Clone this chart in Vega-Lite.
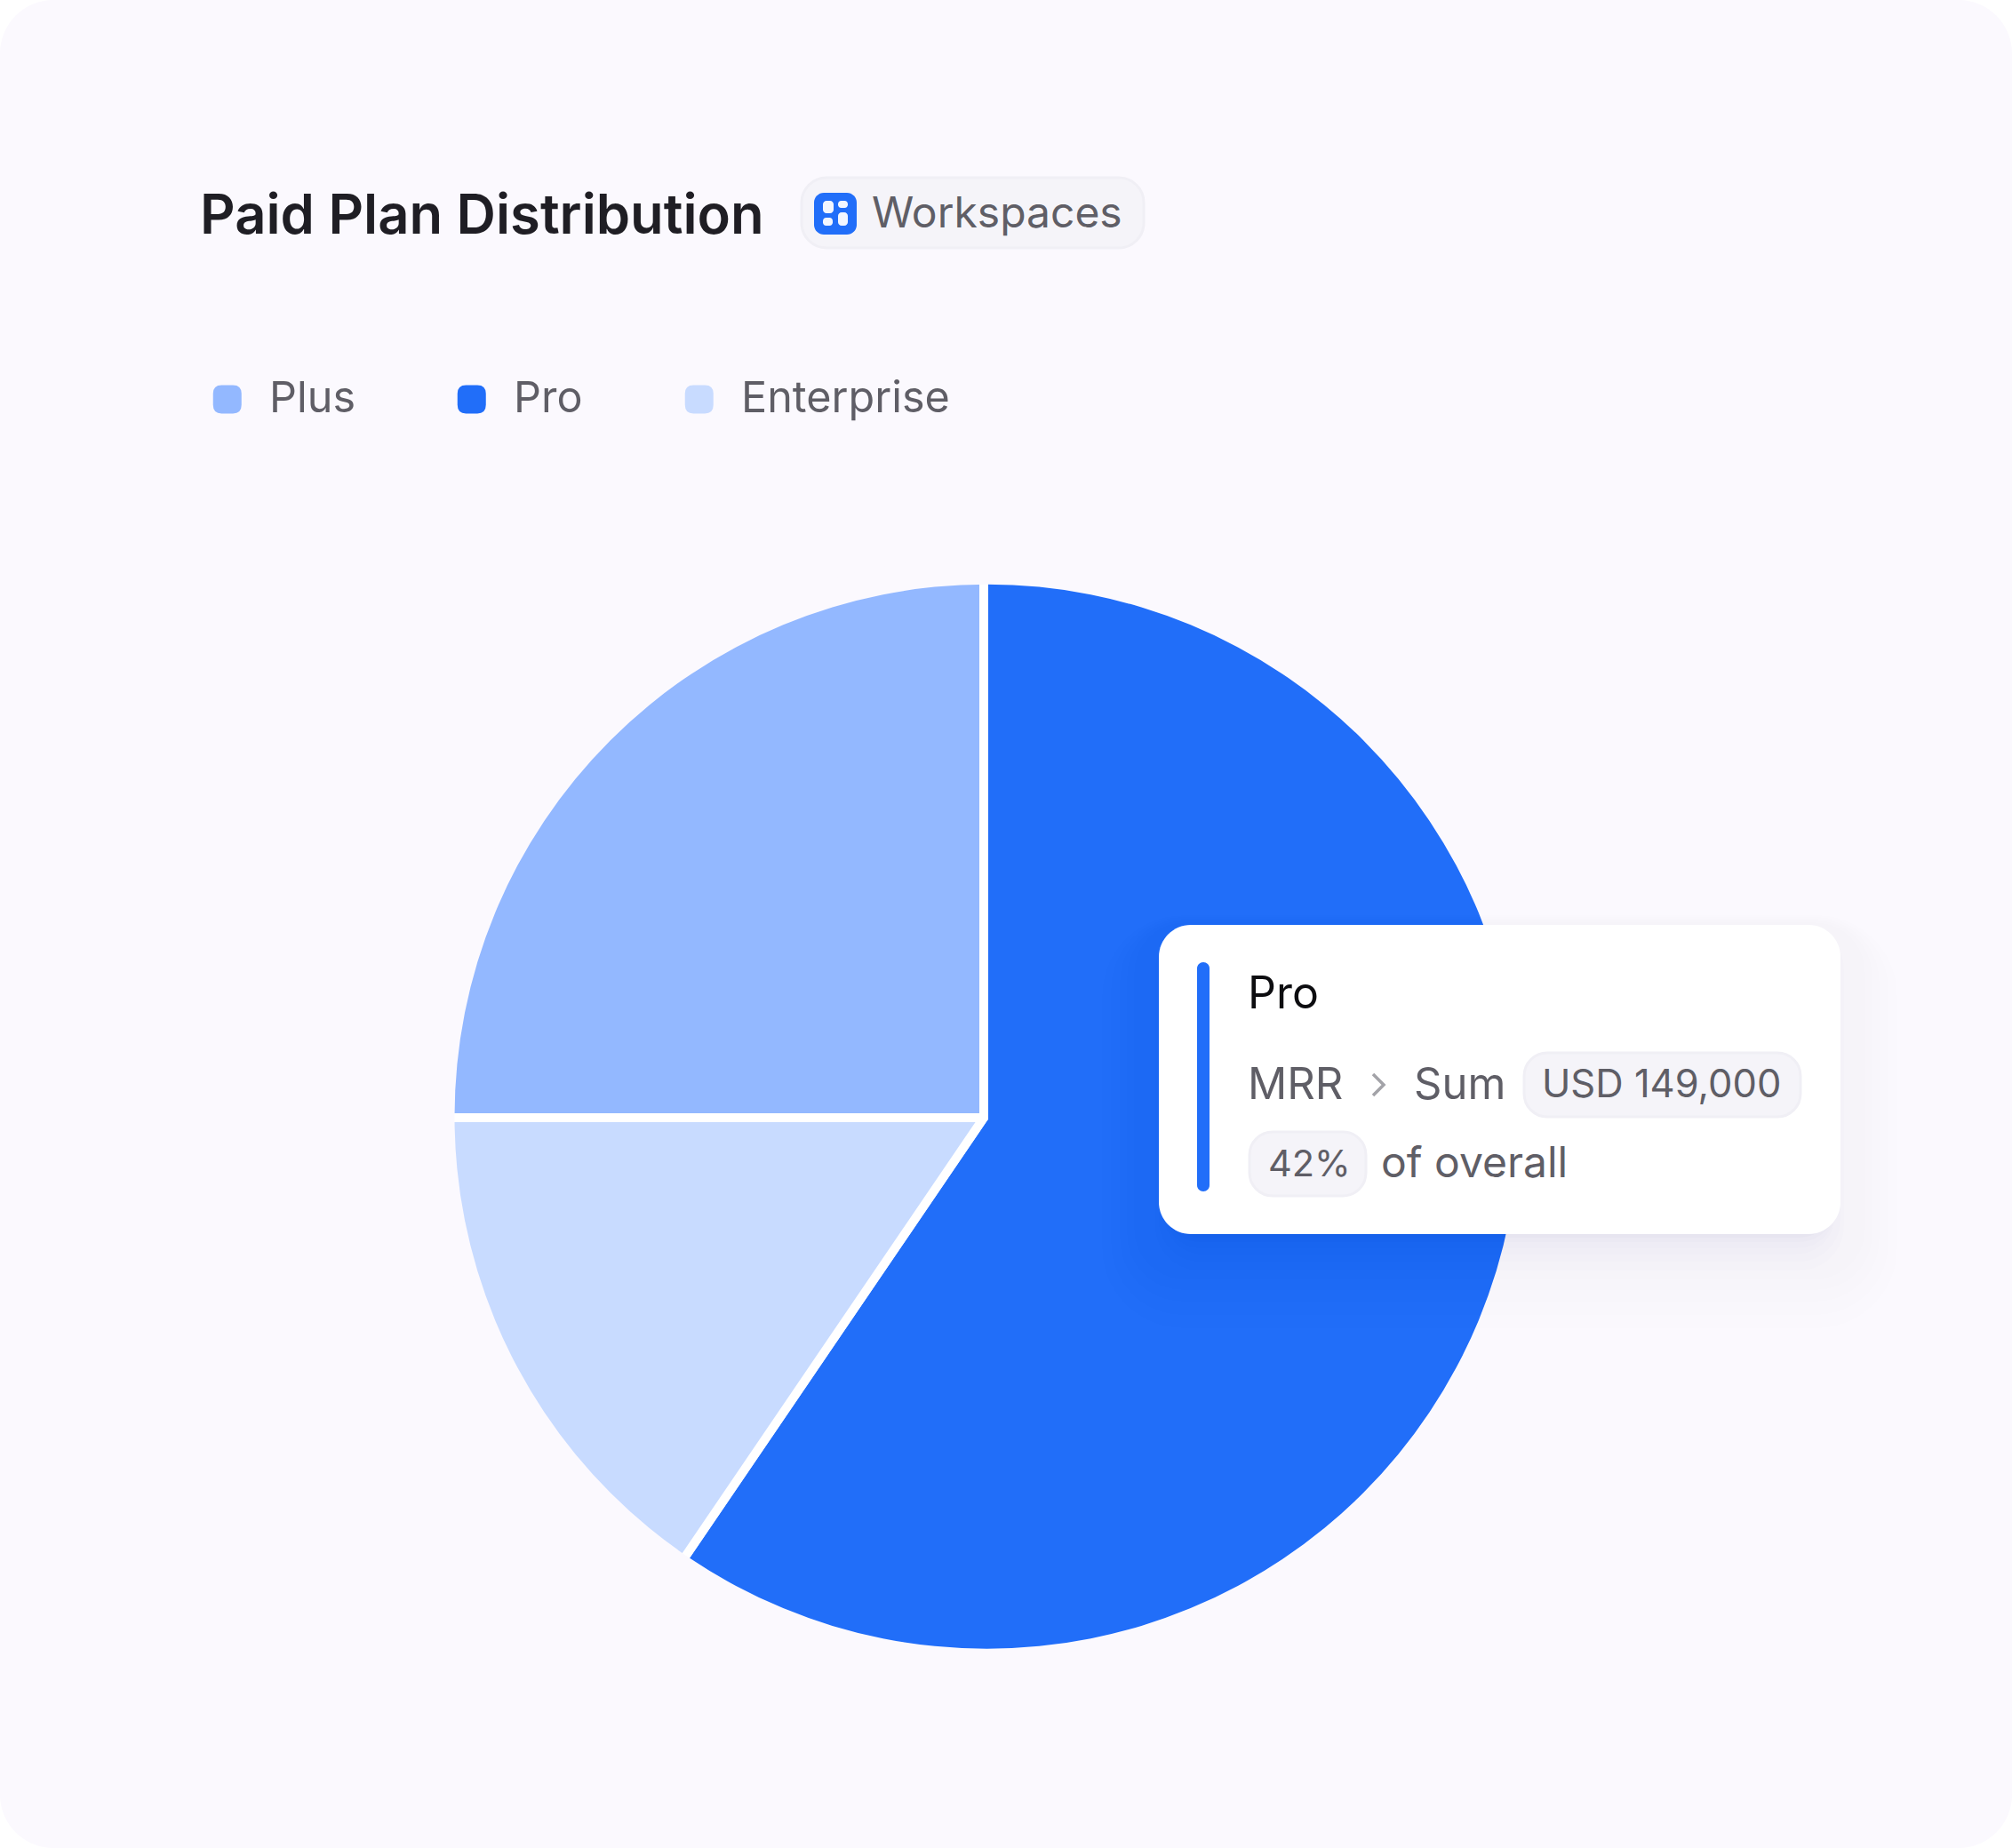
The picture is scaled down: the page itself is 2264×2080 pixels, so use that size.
{
"$schema":"https://vega.github.io/schema/vega-lite/v6.json",
"width":2264,"height":2080,"padding":0,"autosize":{"type":"fit","contains":"padding"},
"background":"#ffffff",
"config":{"view":{"stroke":null},"font":"Inter"},
"layer":[
{"data":{"values":[{}]},"mark":{"type":"rect","x":0,"x2":2264,"y":0,"y2":2080,"fill":"#FBF9FE","cornerRadius":60}},
{"data":{"values":[{"plan":"Pro","mrr":149000,"slice":1},{"plan":"Enterprise","mrr":38800,"slice":2},{"plan":"Plus","mrr":62600,"slice":3}]},
 "mark":{"type":"arc","outerRadius":610,"innerRadius":0,"stroke":"#ffffff","strokeWidth":10,"strokeJoin":"round","x":1107,"y":1258},
 "encoding":{
  "theta":{"field":"mrr","type":"quantitative","stack":true},
  "order":{"field":"slice","type":"ordinal"},
  "color":{"field":"plan","type":"nominal","scale":{"domain":["Plus","Pro","Enterprise"],"range":["#93B8FF","#216EF9","#C8DBFF"]},
   "legend":{"title":null,"orient":"none","legendX":231.5,"legendY":425,"direction":"horizontal","columns":3,"columnPadding":106,
    "symbolType":"M-0.4,-1H0.4Q1,-1 1,-0.4V0.4Q1,1 0.4,1H-0.4Q-1,1 -1,0.4V-0.4Q-1,-1 -0.4,-1Z","symbolSize":1024,"symbolStrokeWidth":0,"symbolStrokeColor":"transparent",
    "labelFont":"Inter","labelFontSize":48.5,"labelColor":"#5F5E66","labelOffset":23,"labelLimit":400}}
 }},
{"data":{"values":[{}]},"mark":{"type":"arc","x":1110.5,"y":1256.7,"innerRadius":599,"outerRadius":630,"theta":0,"theta2":6.2832,"fill":"#FBF9FE"}},
{"data":{"values":[{}]},"mark":{"type":"text","x":225,"y":263,"text":"Paid Plan Distribution","font":"Inter","fontSize":61.5,"fontWeight":600,"fill":"#1F1E24","align":"left","baseline":"alphabetic"}},
{"data":{"values":[{}]},"mark":{"type":"rect","x":902,"x2":1287,"y":200,"y2":279,"fill":"#F5F4F9","stroke":"#F0EFF5","strokeWidth":3,"cornerRadius":28}},
{"data":{"values":[{}]},"mark":{"type":"rect","x":916,"x2":964,"y":217,"y2":264,"fill":"#216EF9","cornerRadius":11}},
{"data":{"values":[{}]},"mark":{"type":"rect","x":926,"x2":938,"y":226,"y2":240,"fill":"#F2F6FF","cornerRadius":4}},
{"data":{"values":[{}]},"mark":{"type":"rect","x":943,"x2":954,"y":226,"y2":234,"fill":"#F2F6FF","cornerRadius":3.5}},
{"data":{"values":[{}]},"mark":{"type":"rect","x":926,"x2":937,"y":245,"y2":254,"fill":"#F2F6FF","cornerRadius":3.5}},
{"data":{"values":[{}]},"mark":{"type":"rect","x":943,"x2":954,"y":239,"y2":254,"fill":"#F2F6FF","cornerRadius":4}},
{"data":{"values":[{}]},"mark":{"type":"text","x":981,"y":256,"text":"Workspaces","font":"Inter","fontSize":48,"fill":"#5F5E66","align":"left","baseline":"alphabetic"}},
{"data":{"values":[{}]},"mark":{"type":"rect","x":1240,"x2":2135,"y":1030,"y2":1495,"fill":"#1A1640","opacity":0.005,"cornerRadius":90}},
{"data":{"values":[{}]},"mark":{"type":"rect","x":1250,"x2":2125,"y":1032,"y2":1480,"fill":"#1A1640","opacity":0.005,"cornerRadius":80}},
{"data":{"values":[{}]},"mark":{"type":"rect","x":1260,"x2":2115,"y":1034,"y2":1465,"fill":"#1A1640","opacity":0.005,"cornerRadius":70}},
{"data":{"values":[{}]},"mark":{"type":"rect","x":1268,"x2":2107,"y":1036,"y2":1452,"fill":"#1A1640","opacity":0.005,"cornerRadius":62}},
{"data":{"values":[{}]},"mark":{"type":"rect","x":1276,"x2":2099,"y":1038,"y2":1440,"fill":"#1A1640","opacity":0.005,"cornerRadius":56}},
{"data":{"values":[{}]},"mark":{"type":"rect","x":1300,"x2":2075,"y":1041,"y2":1430,"fill":"#1A1640","opacity":0.006,"cornerRadius":50}},
{"data":{"values":[{}]},"mark":{"type":"rect","x":1304,"x2":2071,"y":1041,"y2":1420,"fill":"#1A1640","opacity":0.006,"cornerRadius":46}},
{"data":{"values":[{}]},"mark":{"type":"rect","x":1310,"x2":2065,"y":1041,"y2":1412,"fill":"#1A1640","opacity":0.008,"cornerRadius":44}},
{"data":{"values":[{}]},"mark":{"type":"rect","x":1310,"x2":2065,"y":1041,"y2":1405,"fill":"#1A1640","opacity":0.008,"cornerRadius":42}},
{"data":{"values":[{}]},"mark":{"type":"rect","x":1310,"x2":2065,"y":1041,"y2":1398,"fill":"#1A1640","opacity":0.01,"cornerRadius":40}},
{"data":{"values":[{}]},"mark":{"type":"rect","x":1312,"x2":2063,"y":1041,"y2":1393,"fill":"#1A1640","opacity":0.015,"cornerRadius":38}},
{"data":{"values":[{}]},"mark":{"type":"rect","x":1304,"x2":2071,"y":1041,"y2":1389,"fill":"#FFFFFF","cornerRadius":36}},
{"data":{"values":[{}]},"mark":{"type":"rect","x":1347,"x2":1361,"y":1083,"y2":1341,"fill":"#216EF9","cornerRadius":7}},
{"data":{"values":[{}]},"mark":{"type":"text","x":1404,"y":1135,"text":"Pro","font":"Inter","fontSize":50,"fill":"#0D0D10","align":"left","baseline":"alphabetic"}},
{"data":{"values":[{}]},"mark":{"type":"text","x":1404,"y":1237,"text":"MRR","font":"Inter","fontSize":49,"fill":"#5F5E66","align":"left","baseline":"alphabetic"}},
{"data":{"values":[{}]},"mark":{"type":"point","x":1551,"y":1221,"shape":"M-0.5,-1L0.5,0L-0.5,1","size":576,"stroke":"#A3A3A8","strokeWidth":3.5,"filled":false,"opacity":1}},
{"data":{"values":[{}]},"mark":{"type":"text","x":1591,"y":1237,"text":"Sum","font":"Inter","fontSize":49,"fill":"#5F5E66","align":"left","baseline":"alphabetic"}},
{"data":{"values":[{}]},"mark":{"type":"rect","x":1715,"x2":2026,"y":1185,"y2":1257,"fill":"#F5F4F9","stroke":"#F0EFF5","strokeWidth":3,"cornerRadius":26}},
{"data":{"values":[{}]},"mark":{"type":"text","x":1735,"y":1235,"text":"USD 149,000","font":"Inter","fontSize":43.5,"fill":"#5F5E66","align":"left","baseline":"alphabetic"}},
{"data":{"values":[{}]},"mark":{"type":"rect","x":1406,"x2":1537,"y":1274,"y2":1346,"fill":"#F5F4F9","stroke":"#F0EFF5","strokeWidth":3,"cornerRadius":26}},
{"data":{"values":[{}]},"mark":{"type":"text","x":1427,"y":1324,"text":"42%","font":"Inter","fontSize":41.5,"fill":"#5F5E66","align":"left","baseline":"alphabetic"}},
{"data":{"values":[{}]},"mark":{"type":"text","x":1554,"y":1325,"text":"of overall","font":"Inter","fontSize":48,"fill":"#5F5E66","align":"left","baseline":"alphabetic"}}
]
}
